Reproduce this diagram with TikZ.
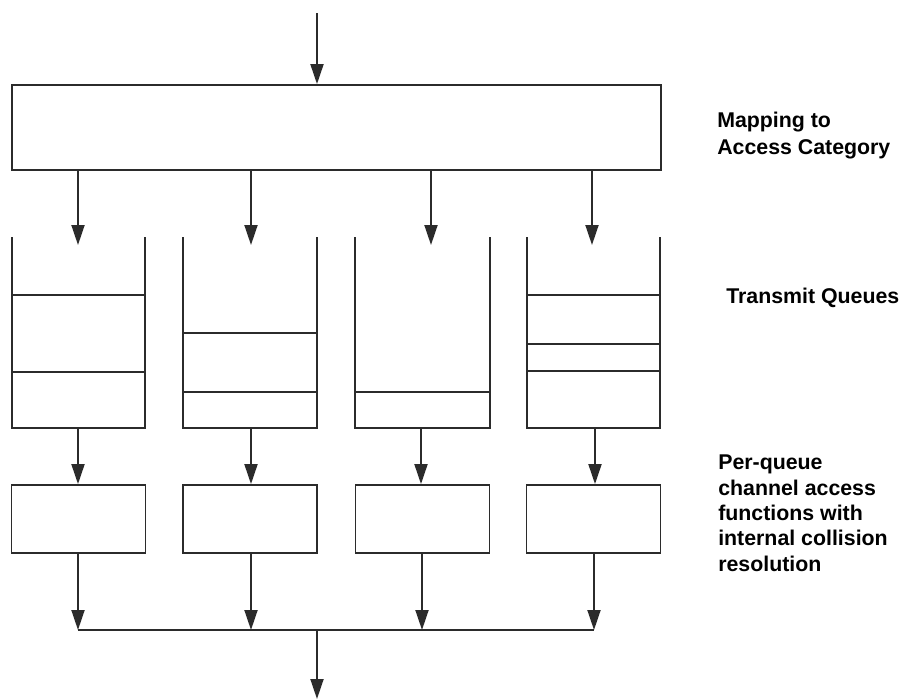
\documentclass[tikz,border=0pt]{standalone}
\usepackage{fontspec}
\setmainfont{Liberation Sans}
\usetikzlibrary{arrows.meta}
\definecolor{ln}{HTML}{2B2B2B}
\tikzset{
  px/.style={x=0.75pt,y=-0.75pt},
  ln/.style={draw=ln,line width=1.4pt},
  arr/.style={ln,-{Triangle[width=9.75pt,length=15pt]}},
  box/.style={ln,rectangle,inner sep=0pt,minimum width=100.5pt,minimum height=51pt},
  lbl/.style={anchor=base west,inner sep=0pt,font=\fontsize{16}{19}\selectfont\bfseries,text=black}
}
\begin{document}
\begin{tikzpicture}[px]
\useasboundingbox[fill=white] (0,0) rectangle (908,700);
% top input
\coordinate (in) at (317,13);
\node[ln,rectangle,inner sep=0pt,minimum width=486.75pt,minimum height=63.75pt] (map) at (336.5,127.5) {};
\draw[arr] (in) -- (in |- map.north);
% arrow tips into queues
\coordinate (t1) at (78,245);
\coordinate (t2) at (251,245);
\coordinate (t3) at (431,245);
\coordinate (t4) at (592,245);
\foreach \i in {1,2,3,4} \draw[arr] (map.south -| t\i) -- (t\i);
% queues (open top)
\foreach \i/\xa/\xb in {1/12/145,2/183/317,3/355/490,4/527/660}{
  \coordinate (ql\i) at (\xa,237);
  \coordinate (qr\i) at (\xb,237);
  \draw[ln] (ql\i) -- (\xa,428) -- (\xb,428) -- (qr\i);
}
% queue entries
\draw[ln] (12,295) -- (145,295);
\draw[ln] (12,372) -- (145,372);
\draw[ln] (183,333) -- (317,333);
\draw[ln] (183,392) -- (317,392);
\draw[ln] (355,392) -- (490,392);
\draw[ln] (527,295) -- (660,295);
\draw[ln] (527,344) -- (660,344);
\draw[ln] (527,371) -- (660,371);
% per-queue functions
\node[box] (f1) at (78.5,519) {};
\node[box] (f2) at (250,519) {};
\node[box] (f3) at (422.5,519) {};
\node[box] (f4) at (593.5,519) {};
\coordinate (qb1) at (78,428);
\coordinate (qb2) at (251,428);
\coordinate (qb3) at (421,428);
\coordinate (qb4) at (595,428);
\foreach \i in {1,2,3,4} \draw[arr] (qb\i) -- (qb\i |- f\i.north);
% bus
\coordinate (b1) at (78,630);
\coordinate (b2) at (251,630);
\coordinate (b3) at (422,630);
\coordinate (b4) at (594,630);
\coordinate (bm) at (317,630);
\coordinate (out) at (317,699);
\foreach \i in {1,2,3,4} \draw[arr] (f\i.south -| b\i) -- (b\i);
\draw[ln] (b1) -- (b4);
\draw[arr] (bm) -- (out);
% labels
\node[lbl] (m1) at (717,127) {Mapping to};
\node[lbl] (m2) at (717,154) {Access Category};
\node[lbl] (tq) at (726,303) {Transmit Queues};
\node[lbl] (p1) at (718,469) {Per-queue};
\node[lbl] (p2) at (718,495) {channel access};
\node[lbl] (p3) at (718,520) {functions with};
\node[lbl] (p4) at (718,545) {internal collision};
\node[lbl] (p5) at (718,571) {resolution};
\end{tikzpicture}
\end{document}
